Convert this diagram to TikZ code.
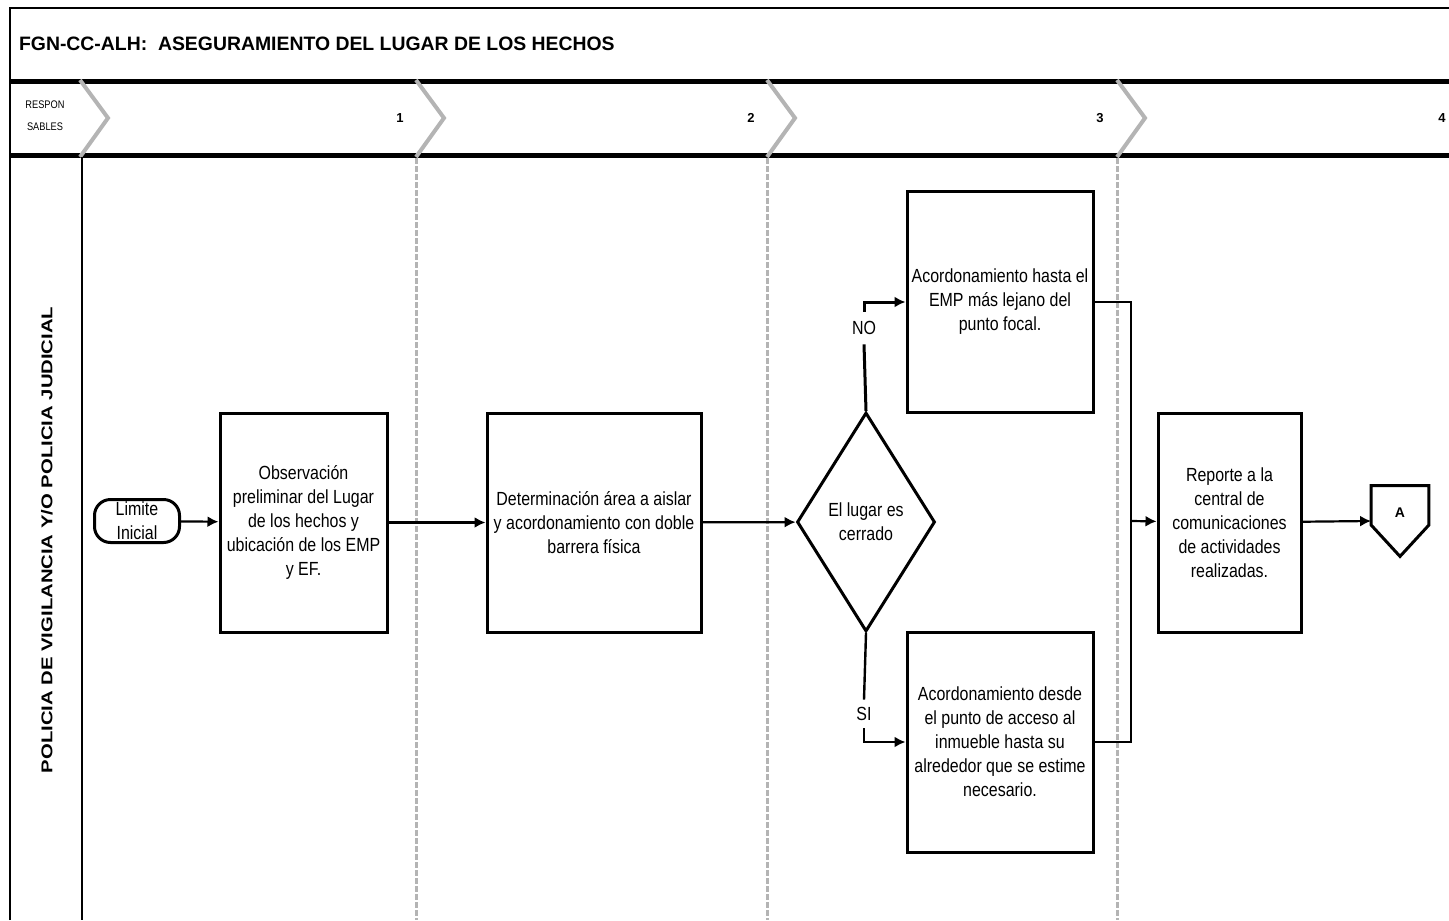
\documentclass[tikz,border=0pt]{standalone}
\usepackage{fontspec}
\setmainfont{Liberation Sans}
\newfontfamily\narrowfont[FakeStretch=0.84]{Liberation Sans}
\newfontfamily\widefont[FakeStretch=1.3]{Liberation Sans}
\usetikzlibrary{shapes.geometric,arrows.meta,calc}
\definecolor{g1}{HTML}{B4B4B4}
\tikzset{
  txt/.style={font=\narrowfont\fontsize{9.5}{12}\selectfont,align=center},
  box/.style={txt,draw,line width=1.5pt,minimum height=109.5pt,inner sep=1pt},
  decision/.style={txt,draw,diamond,line width=1.5pt,minimum width=69pt,minimum height=109.5pt,inner sep=0pt},
  flow/.style={line width=1.1pt,-{Latex[length=5.5pt,width=5.5pt]}},
  lane/.style={g1,line width=1.5pt,dash pattern=on 3pt off 1pt},
}

\begin{document}
\begin{tikzpicture}[x=0.5pt,y=-0.5pt]
  \useasboundingbox (0,0) rectangle (1449,920);
  % frame and header
  \draw[line width=1pt] (10,920) -- (10,8) -- (1449,8);
  \node[anchor=west,font=\bfseries\fontsize{9.7}{12}\selectfont] (title) at (12,44) {FGN-CC-ALH:\ \ ASEGURAMIENTO DEL LUGAR DE LOS HECHOS};
  \draw[line width=2.5pt] (10,82) -- (1449,82);
  \draw[line width=2.5pt] (10,155) -- (1449,155);
  \node[font=\narrowfont\fontsize{5.5}{11}\selectfont,align=center] (resp) at (45,116) {RESPON\\SABLES};
  \foreach \x/\n in {400/1,751/2,1100/3,1442/4}
    \node[font=\bfseries\fontsize{6.5}{8}\selectfont] at (\x,118) {\n};
  \foreach \x in {416,767,1117}
    \draw[lane] (\x,158) -- (\x,920);
  \foreach \x in {80,416,767,1117}
    \draw[g1,line width=2pt] (\x,80) -- ({\x+28},118) -- (\x,157);
  \draw[line width=0.7pt] (82,157) -- (82,920);
  \node[rotate=90,font=\widefont\bfseries\fontsize{7.8}{9}\selectfont] (pol) at (47,540) {POLICIA DE VIGILANCIA Y/O POLICIA JUDICIAL};

  % process
  \node[txt,draw,line width=1.5pt,rounded corners=8pt,minimum width=42.5pt,minimum height=21.5pt,inner sep=0pt] (lim) at (137,521) {Limite\\Inicial};
  \node[box,minimum width=83.5pt] (obs) at (303.5,522.5) {Observación\\preliminar del Lugar\\de los hechos y\\ubicación de los EMP\\y EF.};
  \node[box,minimum width=107pt] (det) at (594,522.5) {Determinación área a aislar\\y acordonamiento con doble\\barrera física};
  \node[decision] (dec) at (866,522) {El lugar es\\cerrado};
  \node[box,minimum width=93pt,minimum height=110.5pt] (lej) at (1000,302) {Acordonamiento hasta el\\EMP más lejano del\\punto focal.};
  \node[box,minimum width=93pt,minimum height=110pt] (acc) at (1000,742) {Acordonamiento desde\\el punto de acceso al\\inmueble hasta su\\alrededor que se estime\\necesario.};
  \node[box,minimum width=71.5pt] (rep) at (1229.5,522.5) {Reporte a la\\central de\\comunicaciones\\de actividades\\realizadas.};
  \node[font=\bfseries\fontsize{7}{8}\selectfont,minimum width=28.5pt,minimum height=35pt,inner sep=0pt,text depth=8pt] (A) at (1400,521) {A};
  \draw[line width=1.5pt] (A.north west) -- (A.north east) -- ($(A.east)+(0,4)$) -- (A.south) -- ($(A.west)+(0,4)$) -- cycle;

  \node[txt,minimum height=16pt,inner sep=0pt] (no) at (864,328) {NO};
  \node[txt,minimum height=14pt,inner sep=0pt] (si) at (864,714) {SI};
  \coordinate (m) at (1131,521);

  \draw[flow] (lim) -- (obs);
  \draw[flow] (obs) -- (det);
  \draw[flow] (det) -- (dec);
  \draw[line width=1.5pt] (dec.north) -- (no.south);
  \draw[flow,line width=1.5pt] (no.north) |- (lej.west);
  \draw[line width=1.2pt] (dec.south) -- (si.north);
  \draw[flow,line width=1.2pt] (si.south) |- (acc.west);
  \draw[line width=1.1pt] (lej.east) -| (m) |- (acc.east);
  \draw[flow] (m) -- (rep);
  \draw[flow] (rep) -- (A.west);
\end{tikzpicture}
\end{document}
